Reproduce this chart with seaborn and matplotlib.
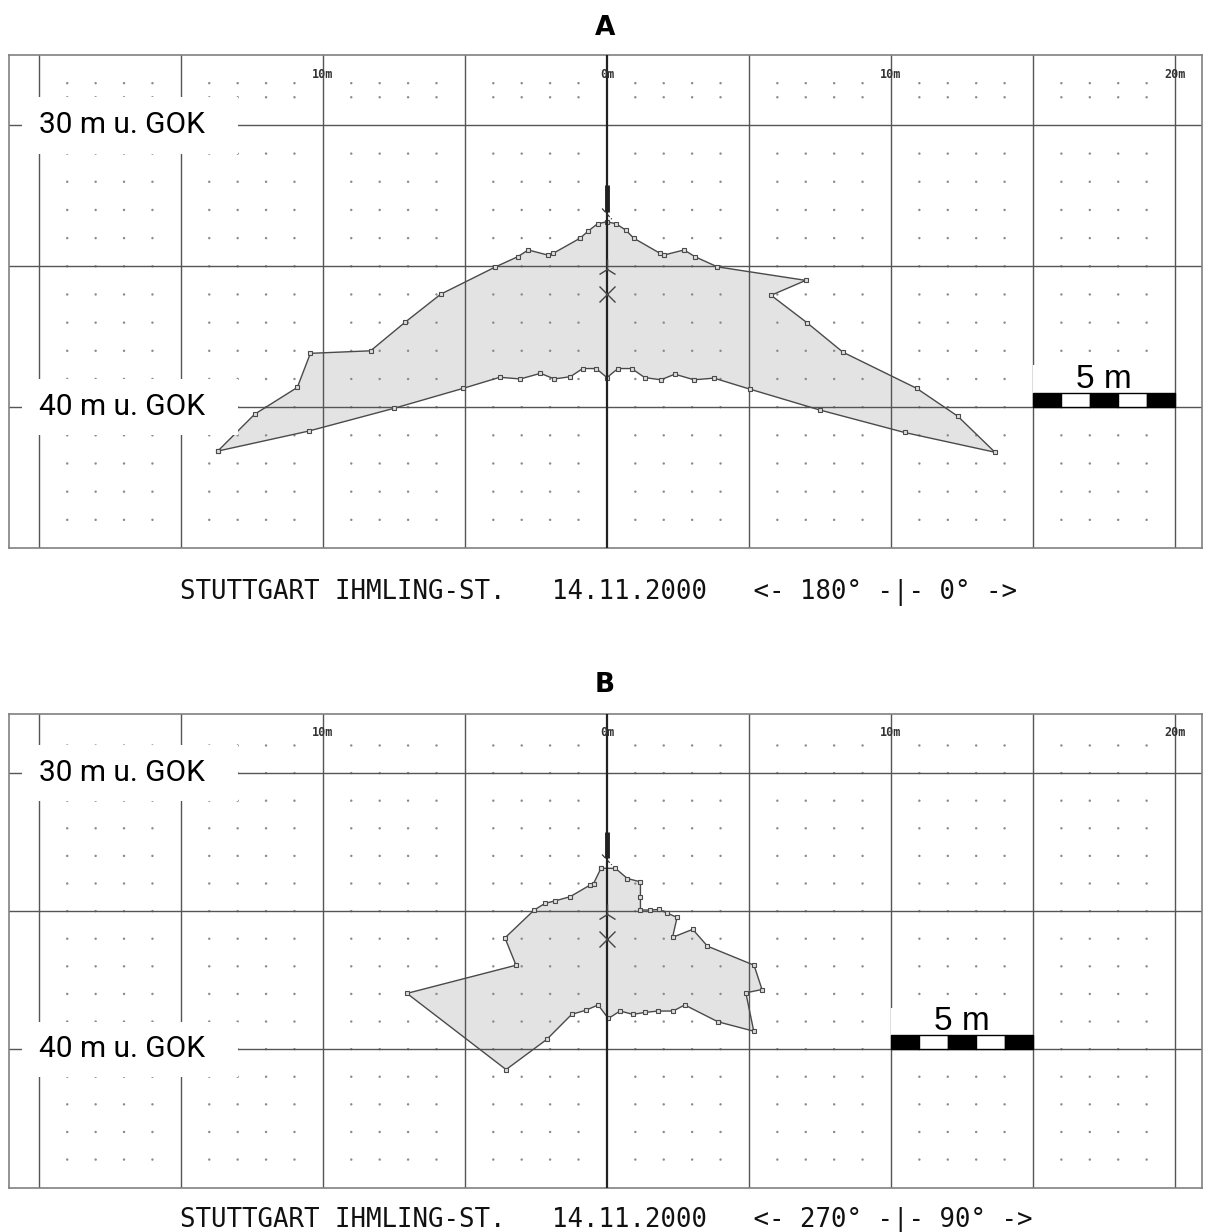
import numpy as np
import pandas as pd
import matplotlib.pyplot as plt
import seaborn as sns
from matplotlib.patches import Rectangle

# cross-section outlines: x = metres from the borehole, depth = m below ground
a_x = [-13.7, -12.4, -10.9, -10.44, -8.32, -7.11, -5.85, -3.94, -3.14, -2.77, -2.09,
       -1.89, -0.94, -0.66, -0.33, 0.0, 0.32, 0.67, 0.94, 1.87, 2.01, 2.72, 3.1, 3.89,
       7.0, 5.78, 7.04, 8.31, 10.9, 12.35, 13.66,
       10.48, 7.49, 5.03, 3.77, 3.07, 2.39, 1.9, 1.33, 0.87, 0.39, 0.0, -0.38, -0.85,
       -1.29, -1.85, -2.34, -3.05, -3.77, -5.05, -7.49, -10.5]
a_depth = [41.56, 40.25, 39.3, 38.09, 38.0, 36.99, 35.99, 35.03, 34.66, 34.42, 34.6,
           34.54, 34.0, 33.75, 33.49, 33.42, 33.49, 33.72, 34.0, 34.54, 34.6, 34.42, 34.66, 35.02,
           35.5, 36.03, 37.0, 38.05, 39.33, 40.32, 41.6,
           40.9, 40.1, 39.36, 38.97, 39.03, 38.83, 39.03, 38.95, 38.63, 38.63, 38.95, 38.63, 38.63,
           38.92, 39.0, 38.8, 39.0, 38.94, 39.33, 40.04, 40.85]

b_x = [-0.21, 0.3, 0.72, 1.18, 1.18, 1.18, 1.51, 1.83, 2.1, 2.47, 2.31, 3.02, 3.54,
       5.18, 5.46, 4.89, 5.17, 3.91, 2.74, 2.33, 1.8, 1.34, 0.92, 0.46, 0.05, -0.31,
       -0.74, -1.24, -2.12, -3.55, -7.04, -3.2, -3.59, -2.56, -2.18, -1.83, -1.3, -0.6, -0.47]
b_depth = [33.45, 33.45, 33.82, 33.94, 34.48, 34.96, 34.96, 34.94, 35.06, 35.23, 35.95, 35.66, 36.27,
           36.96, 37.84, 37.96, 39.35, 39.01, 38.4, 38.62, 38.62, 38.67, 38.74, 38.62, 38.89, 38.4,
           38.59, 38.74, 39.65, 40.74, 37.98, 36.96, 35.97, 34.96, 34.72, 34.63, 34.48, 34.06, 34.0]

titles = ["A", "B"]
captions = ["STUTTGART IHMLING-ST.   14.11.2000   <- 180° -|- 0° ->",
            "STUTTGART IHMLING-ST.   14.11.2000   <- 270° -|- 90° ->"]
depth_labels = [30, 40]
top_tick_pos = [-10, 0, 10, 20]
top_tick_text = ["10m", "0m", "10m", "20m"]
scalebar_start = [15, 10]

# layout of the two panels in figure pixels (top, bottom) and their depth ranges
W, H = 1205, 1232
panel_px = [(55, 548), (714, 1188)]
panel_ylim = [(45.0, 27.5), (45.03, 27.86)]
dot_rows = [[28.5, 29] + list(range(31, 45)), list(range(29, 45))]
title_y = [28, 685]
caption_y = [592, 1220]

sns.set_theme(style="white")
plt.rcParams['font.family'] = ['DejaVu Sans']

fig = plt.figure(figsize=(W / 100, H / 100), dpi=100)
fig.patch.set_facecolor("white")

outlines = [pd.DataFrame({"x": a_x, "depth": a_depth}),
            pd.DataFrame({"x": b_x, "depth": b_depth})]

for i, df in enumerate(outlines):
    top, bot = panel_px[i]
    ax = fig.add_axes([9 / W, 1 - bot / H, 1193 / W, (bot - top) / H])
    ax.set_xlim(-21.05, 20.95)
    ax.set_ylim(*panel_ylim[i])
    ax.set_xticks([])
    ax.set_yticks([])
    ax.set_facecolor("white")
    for s in ax.spines.values():
        s.set_color("#808080")
        s.set_linewidth(1.2)

    # 1 m dot raster
    xs = [v for v in range(-20, 21) if v % 5 != 0]
    gx, gy = np.meshgrid(xs, dot_rows[i])
    sns.scatterplot(x=gx.ravel(), y=gy.ravel(), s=3, color="#8a8a8a",
                    edgecolor="none", ax=ax, zorder=1, legend=False)

    # 5 m grid
    for v in range(-20, 21, 5):
        if v != 0:
            ax.axvline(v, color="#555555", lw=1.0, zorder=1)
    for d in [30, 35, 40]:
        ax.axhline(d, color="#555555", lw=1.0, zorder=1)

    # cavity outline
    closed = pd.concat([df, df.iloc[:1]], ignore_index=True)
    ax.fill(closed["x"], closed["depth"], color="#e3e3e3", zorder=0.5, lw=0)
    sns.lineplot(data=closed, x="x", y="depth", sort=False, estimator=None,
                 color="#4a4a4a", lw=1.0, marker="s", markersize=3.2,
                 markerfacecolor="#dddddd", markeredgecolor="#4a4a4a",
                 markeredgewidth=0.8, ax=ax, zorder=3)
    ax.set_xlabel("")
    ax.set_ylabel("")

    # borehole axis and probe
    ax.axvline(0, color="#222222", lw=1.6, zorder=4)
    ax.plot([0, 0], [32.12, 33.08], color="#222222", lw=3.5, zorder=4,
            solid_capstyle="butt")
    ax.plot([-0.17, 0.17], [32.95, 33.33], color="#333333", lw=0.9, ls="--", zorder=4)
    ax.plot([0], [35.1], marker="2", markersize=14, color="#444444", mew=1.0, zorder=4)
    ax.plot([0], [36.0], marker="x", markersize=11, color="#444444", mew=1.0, zorder=4)

    # distance labels along the top
    for xp, lab in zip(top_tick_pos, top_tick_text):
        ax.text(xp, 0.96, lab, transform=ax.get_xaxis_transform(), ha="center",
                va="center", fontsize=8.5, family="DejaVu Sans Mono",
                fontweight="bold", color="#333333", zorder=6)

    # depth labels on white boxes
    for d in depth_labels:
        ax.add_patch(Rectangle((-20.6, d - 1), 7.6, 2, facecolor="white",
                               edgecolor="none", zorder=5))
        ax.text(-20.0, d, f"{d} m u. GOK", ha="left", va="center",
                fontsize=21.5, family="Roboto", color="black", zorder=6)

    # 5 m scale bar
    x0 = scalebar_start[i]
    ax.add_patch(Rectangle((x0, 38.5), 4.95, 1.0, facecolor="white",
                           edgecolor="none", zorder=5))
    for k in range(5):
        ax.add_patch(Rectangle((x0 + k, 39.5), 1, 0.5,
                               facecolor="black" if k % 2 == 0 else "white",
                               edgecolor="black", lw=1.0, zorder=5))
    ax.text(x0 + 2.5, 39.32, "5 m", ha="center", va="baseline", fontsize=24,
            family="Liberation Sans", color="black", zorder=6)

    fig.text(605 / W, 1 - title_y[i] / H, titles[i], ha="center", va="center",
             fontsize=19, fontweight="bold", family="DejaVu Sans", color="black")
    fig.text(180 / W, 1 - caption_y[i] / H, captions[i], ha="left", va="center",
             fontsize=18.5, family="DejaVu Sans Mono", color="#111111")

fig.savefig("out.png", dpi=100, facecolor="white")
